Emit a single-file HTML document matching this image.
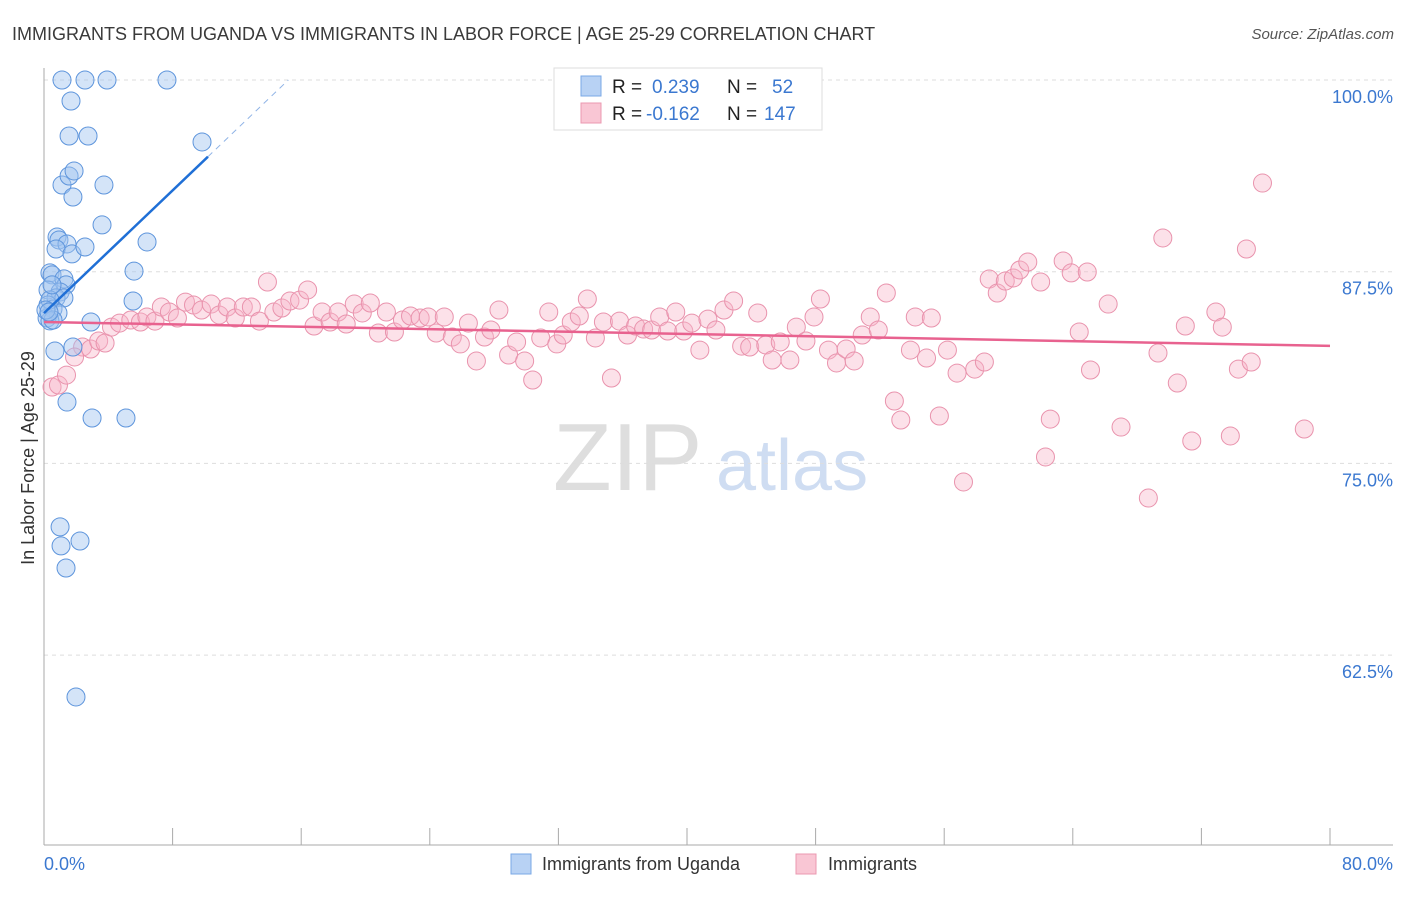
<!DOCTYPE html>
<html><head><meta charset="utf-8"><style>
body{margin:0;background:#fff;font-family:"Liberation Sans",sans-serif;}
svg text{font-family:"Liberation Sans",sans-serif;}
</style></head><body>
<svg id="chart" width="1406" height="892" xmlns="http://www.w3.org/2000/svg">
<text x="12" y="40" font-size="18" fill="#3a3a3a">IMMIGRANTS FROM UGANDA VS IMMIGRANTS IN LABOR FORCE | AGE 25-29 CORRELATION CHART</text>
<text x="1394" y="39" font-size="15" fill="#555" font-style="italic" text-anchor="end">Source: ZipAtlas.com</text>
<g>
<text x="553" y="490" font-size="96" fill="#dedede" font-family="Liberation Serif">ZIP</text>
<text x="716" y="490" font-size="72" fill="#cfddf2">atlas</text>
</g>
<g id="grid"></g>
<g id="axes"></g>
<g id="pink"></g>
<g id="blue"></g>
<g id="lines"></g>
<text transform="translate(34,458) rotate(-90)" font-size="18" fill="#333" text-anchor="middle">In Labor Force | Age 25-29</text>
<g>
<rect x="554" y="68" width="268" height="62" fill="#fff" stroke="#ddd"/>
<rect x="581" y="76" width="20" height="20" fill="#b8d2f4" stroke="#7aa8e6"/>
<rect x="581" y="103" width="20" height="20" fill="#f9c6d4" stroke="#eb98b0"/>
<text x="612" y="93" font-size="19" fill="#222">R = </text><text x="652" y="93" font-size="19" fill="#3b78d0">0.239</text>
<text x="727" y="93" font-size="19" fill="#222">N = </text><text x="772" y="93" font-size="19" fill="#3b78d0">52</text>
<text x="612" y="120" font-size="19" fill="#222">R = </text><text x="646" y="120" font-size="19" fill="#3b78d0">-0.162</text>
<text x="727" y="120" font-size="19" fill="#222">N = </text><text x="764" y="120" font-size="19" fill="#3b78d0">147</text>
</g>
<g>
<rect x="511" y="854" width="20" height="20" fill="#b8d2f4" stroke="#7aa8e6"/>
<text x="542" y="870" font-size="18" fill="#333">Immigrants from Uganda</text>
<rect x="796" y="854" width="20" height="20" fill="#f9c6d4" stroke="#eb98b0"/>
<text x="828" y="870" font-size="18" fill="#333">Immigrants</text>
</g>
</svg>
<script>
const xTicks=[0,8,16,24,32,40,48,56,64,72,80];
const yTicks=[62.5,75,87.5,100];
const yTickLabels=["62.5%","75.0%","87.5%","100.0%"];
const xEndLabels=["0.0%","80.0%"];
const blueX=[1.12,2.55,3.92,7.65,1.68,1.56,2.74,9.83,1.12,3.73,1.56,1.87,1.80,3.61,6.41,0.81,0.93,1.43,0.75,1.74,2.55,5.60,0.37,0.50,1.24,1.37,0.25,1.0,0.75,1.24,5.54,0.25,0.56,0.87,0.19,0.37,0.56,2.92,0.68,1.80,1.43,2.99,5.10,1.0,1.06,2.24,1.37,1.99,0.37,0.5,0.12,0.31];
const blueY=[100,100,100,100,98.63,96.35,96.35,95.96,93.15,93.15,93.74,94.07,92.37,90.55,89.44,89.76,89.57,89.31,88.98,88.66,89.11,87.54,87.42,87.29,87.03,86.64,86.31,86.18,85.79,85.79,85.59,85.33,85.07,84.81,84.48,84.29,84.35,84.22,82.33,82.59,79.0,77.96,77.96,70.86,69.62,69.94,68.18,59.77,85.66,86.64,85.0,84.87];
const pinkX=[0.5,0.9,1.4,2.4,1.9,2.9,3.4,3.8,4.2,4.7,5.4,6.0,6.4,6.9,7.3,7.8,8.3,8.8,9.3,9.8,10.4,10.9,11.4,11.9,12.4,12.9,13.4,13.9,14.3,14.8,15.3,15.9,16.4,16.8,17.3,17.8,18.3,18.8,19.3,19.8,20.3,20.8,21.3,21.8,22.3,22.8,23.4,23.9,24.4,24.9,25.4,25.9,26.4,26.9,27.4,27.8,28.3,28.9,29.4,29.9,30.4,30.9,31.4,31.9,32.3,32.8,33.3,33.8,34.3,34.8,35.3,35.8,36.3,36.8,37.3,37.8,38.3,38.8,39.3,39.8,40.3,40.8,41.3,41.8,42.3,42.9,43.4,43.9,44.4,44.9,45.3,45.8,46.4,46.8,47.4,47.9,48.3,48.8,49.3,49.9,50.4,50.9,51.4,51.9,52.4,52.9,53.3,53.9,54.2,54.9,55.2,55.7,56.2,56.8,57.2,57.9,58.5,58.8,59.3,59.8,60.3,60.7,61.2,62.0,62.3,62.6,63.4,63.9,64.4,64.9,65.1,66.2,67.0,68.7,69.3,69.6,70.5,71.0,71.4,72.9,73.3,73.8,74.3,74.8,75.1,75.8,78.4];
const pinkY=[79.98,80.11,80.76,82.59,81.94,82.46,82.98,82.85,83.89,84.15,84.35,84.22,84.55,84.28,85.20,84.87,84.48,85.52,85.33,85.00,85.39,84.68,85.20,84.48,85.20,85.20,84.28,86.83,84.87,85.13,85.59,85.65,86.31,83.96,84.87,84.22,84.87,84.09,85.39,84.81,85.46,83.50,84.87,83.57,84.35,84.61,84.48,84.55,83.50,84.55,83.24,82.79,84.15,81.68,83.24,83.70,85.00,82.07,82.92,81.68,80.44,83.18,84.87,82.79,83.37,84.22,84.61,85.72,83.18,84.22,80.57,84.28,83.37,83.96,83.76,83.70,84.55,83.63,84.87,83.63,84.15,82.39,84.41,83.70,85.00,85.59,82.65,82.59,84.81,82.72,81.74,82.92,81.74,83.89,82.98,84.55,85.72,82.39,81.55,82.46,81.68,83.37,84.55,83.70,86.11,79.07,77.83,82.39,84.55,81.87,84.48,78.09,82.39,80.89,73.79,81.15,81.61,87.02,86.11,86.89,87.09,87.61,88.13,86.83,75.42,77.89,88.20,87.42,83.57,87.48,81.09,85.39,77.37,72.74,82.20,89.70,80.24,83.96,76.46,84.87,83.89,76.79,81.15,88.98,81.61,93.28,77.24];
const blueTrend=[84.8,1.0];   // intercept, slope
const pinkTrend=[84.22,-0.0195];

const X=v=>44+v/80*1286;
const Y=v=>80+(100-v)/12.5*191.7;
const NS="http://www.w3.org/2000/svg";
function mk(tag,parent,attrs){const e=document.createElementNS(NS,tag);for(const k in attrs)e.setAttribute(k,attrs[k]);document.getElementById(parent).appendChild(e);return e;}

yTicks.forEach((t,i)=>{
  const g=mk('line','grid',{x1:44,x2:1393,y1:Y(t),y2:Y(t),stroke:'#ddd','stroke-dasharray':'4,4'});
  
  
  const l=mk('text','axes',{x:1393,y:Y(t)+23,'font-size':18,fill:'#3b78d0','text-anchor':'end'});
  l.textContent=yTickLabels[i];
  
  
});
const ax=mk('line','axes',{x1:44,x2:44,y1:68,y2:845,stroke:'#aaa'});


const bx=mk('line','axes',{x1:44,x2:1393,y1:845,y2:845,stroke:'#aaa'});


xTicks.forEach(t=>{
  const tk=mk('line','axes',{x1:X(t),x2:X(t),y1:828,y2:845,stroke:'#aaa'});
  
  
});
const l0=mk('text','axes',{x:44,y:870,'font-size':18,fill:'#3b78d0'});l0.textContent=xEndLabels[0];


const l1=mk('text','axes',{x:1393,y:870,'font-size':18,fill:'#3b78d0','text-anchor':'end'});l1.textContent=xEndLabels[1];



pinkX.forEach((x,i)=>{
  const c=mk('circle','pink',{cx:X(x),cy:Y(pinkY[i]),r:9,fill:'rgba(248,180,200,0.4)',stroke:'#e993ad','stroke-width':1});
  
  
});
blueX.forEach((x,i)=>{
  const c=mk('circle','blue',{cx:X(x),cy:Y(blueY[i]),r:9,fill:'rgba(160,196,240,0.45)',stroke:'#5e95dc','stroke-width':1});
  
  
});
const bEnd=10.2, bDash=(100-blueTrend[0])/blueTrend[1];
const bl=mk('line','lines',{x1:X(0),y1:Y(blueTrend[0]),x2:X(bEnd),y2:Y(blueTrend[0]+blueTrend[1]*bEnd),stroke:'#1f6fd6','stroke-width':2.5});


const bd=mk('line','lines',{x1:X(bEnd),y1:Y(blueTrend[0]+blueTrend[1]*bEnd),x2:X(bDash),y2:Y(100),stroke:'#8fb3e6','stroke-width':1,'stroke-dasharray':'6,5'});


const pl=mk('line','lines',{x1:X(0),y1:Y(pinkTrend[0]),x2:X(80),y2:Y(pinkTrend[0]+pinkTrend[1]*80),stroke:'#e8628f','stroke-width':2.5});


</script>
</body></html>
